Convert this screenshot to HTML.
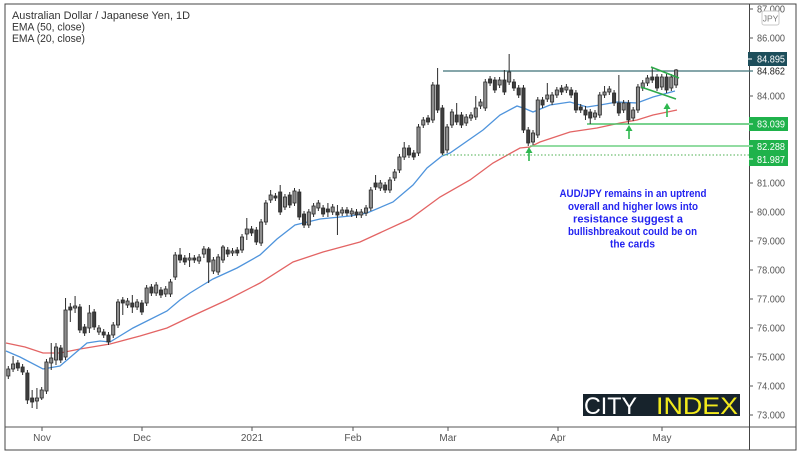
<!DOCTYPE html>
<html>
<head>
<meta charset="utf-8">
<style>
  html,body{margin:0;padding:0;background:#fff;}
  body{width:800px;height:456px;overflow:hidden;}
  svg{display:block;}
  .ax{font-family:"Liberation Sans",sans-serif;font-size:10px;fill:#555;}
  .lg{font-family:"Liberation Sans",sans-serif;font-size:11px;fill:#333;}
  .an{font-family:"Liberation Sans",sans-serif;font-size:11px;font-weight:bold;fill:#2323f0;}
</style>
</head>
<body>
<svg id="c" width="800" height="456" viewBox="0 0 800 456" xmlns="http://www.w3.org/2000/svg">
  <rect x="0" y="0" width="800" height="456" fill="#fff"/>
  <!-- frame -->
  <rect x="5" y="4" width="791" height="446" fill="none" stroke="#444" stroke-width="1"/>
  <line x1="5" y1="427" x2="796" y2="427" stroke="#555" stroke-width="1"/>
  <line x1="749.5" y1="4" x2="749.5" y2="450" stroke="#444" stroke-width="1"/>

  <!-- EMA50 red -->
  <polyline fill="none" stroke="#e36464" stroke-width="1.3" points="6,343 25,347 43,353 60,353 80,349 110,344 140,336 167,328 190,317 227,300 260,283 293,262 323,252 360,242 410,219 440,197 470,180 493,163 520,148 530,147 540,142 570,132 597,128 620,123 637,120 653,115 677,110"/>
  <!-- EMA20 blue -->
  <polyline fill="none" stroke="#4f94dc" stroke-width="1.3" points="6,351 20,357 43,369 60,366 87,343 100,341 110,342 133,328 167,311 180,300 190,293 203,285 213,279 237,268 260,255 277,239 295,225 320,219 350,216 367,213 393,202 413,185 427,168 442,156 450,153 483,130 500,115 517,106 526,109 533,112 550,105 570,102 587,107 600,105 617,102 637,103 653,97 675,91"/>

  <!-- horizontal levels -->
  <line x1="443" y1="71" x2="753" y2="71" stroke="#3f7077" stroke-width="1.3"/>
  <line x1="587" y1="124" x2="753" y2="124" stroke="#4dc46a" stroke-width="1.6"/>
  <line x1="530" y1="146" x2="753" y2="146" stroke="#6fd083" stroke-width="1.6"/>
  <line x1="443" y1="155" x2="753" y2="155" stroke="#4caf50" stroke-width="1" stroke-dasharray="1.5,2"/>

  <g id="candles"></g>

  <!-- pennant -->
  <line x1="651" y1="67" x2="679" y2="78" stroke="#2eaa4a" stroke-width="1.6"/>
  <line x1="641" y1="87" x2="676" y2="99" stroke="#2eaa4a" stroke-width="1.6"/>

  <!-- arrows -->
  <g fill="#2eb84f" stroke="#2eb84f">
    <line x1="529" y1="152" x2="529" y2="161" stroke-width="1.6"/>
    <polygon points="529,147 525.5,153 532.5,153" stroke="none"/>
    <line x1="629" y1="130" x2="629" y2="139" stroke-width="1.6"/>
    <polygon points="629,125 625.5,131 632.5,131" stroke="none"/>
    <line x1="667" y1="108" x2="667" y2="117" stroke-width="1.6"/>
    <polygon points="667,103 663.5,109 670.5,109" stroke="none"/>
  </g>

  <!-- legend -->
  <text class="lg" x="12" y="19" textLength="178" lengthAdjust="spacingAndGlyphs">Australian Dollar / Japanese Yen, 1D</text>
  <text class="lg" x="12" y="30.5" textLength="73" lengthAdjust="spacingAndGlyphs">EMA (50, close)</text>
  <text class="lg" x="12" y="42" textLength="73" lengthAdjust="spacingAndGlyphs">EMA (20, close)</text>

  <!-- annotation -->
  <text class="an" x="633" y="197" text-anchor="middle" textLength="147" lengthAdjust="spacingAndGlyphs">AUD/JPY remains in an uptrend</text>
  <text class="an" x="633" y="210" text-anchor="middle" textLength="130" lengthAdjust="spacingAndGlyphs">overall and higher lows into</text>
  <text class="an" x="628" y="222.5" text-anchor="middle" textLength="110" lengthAdjust="spacingAndGlyphs">resistance suggest a</text>
  <text class="an" x="632.5" y="235" text-anchor="middle" textLength="129" lengthAdjust="spacingAndGlyphs">bullishbreakout could be on</text>
  <text class="an" x="632.5" y="247.5" text-anchor="middle" textLength="45" lengthAdjust="spacingAndGlyphs">the cards</text>

  <!-- price axis ticks & labels -->
  <g stroke="#555" stroke-width="1">
    <line x1="749" y1="9" x2="753" y2="9"/>
    <line x1="749" y1="38" x2="753" y2="38"/>
    <line x1="749" y1="96" x2="753" y2="96"/>
    <line x1="749" y1="183" x2="753" y2="183"/>
    <line x1="749" y1="212" x2="753" y2="212"/>
    <line x1="749" y1="241" x2="753" y2="241"/>
    <line x1="749" y1="270" x2="753" y2="270"/>
    <line x1="749" y1="299" x2="753" y2="299"/>
    <line x1="749" y1="328" x2="753" y2="328"/>
    <line x1="749" y1="357" x2="753" y2="357"/>
    <line x1="749" y1="386" x2="753" y2="386"/>
    <line x1="749" y1="415" x2="753" y2="415"/>
  </g>
  <g class="ax">
    <text x="757" y="12.5" textLength="28" lengthAdjust="spacingAndGlyphs">87.000</text>
    <text x="757" y="41.5" textLength="28" lengthAdjust="spacingAndGlyphs">86.000</text>
    <text x="757" y="99.5" textLength="28" lengthAdjust="spacingAndGlyphs">84.000</text>
    <text x="757" y="186.5" textLength="28" lengthAdjust="spacingAndGlyphs">81.000</text>
    <text x="757" y="215.5" textLength="28" lengthAdjust="spacingAndGlyphs">80.000</text>
    <text x="757" y="244.5" textLength="28" lengthAdjust="spacingAndGlyphs">79.000</text>
    <text x="757" y="273.5" textLength="28" lengthAdjust="spacingAndGlyphs">78.000</text>
    <text x="757" y="302.5" textLength="28" lengthAdjust="spacingAndGlyphs">77.000</text>
    <text x="757" y="331.5" textLength="28" lengthAdjust="spacingAndGlyphs">76.000</text>
    <text x="757" y="360.5" textLength="28" lengthAdjust="spacingAndGlyphs">75.000</text>
    <text x="757" y="389.5" textLength="28" lengthAdjust="spacingAndGlyphs">74.000</text>
    <text x="757" y="418.5" textLength="28" lengthAdjust="spacingAndGlyphs">73.000</text>
  </g>
  <!-- JPY box -->
  <rect x="762" y="11" width="17" height="14" rx="2" fill="#fff" stroke="#c8c8c8" stroke-width="1"/>
  <text x="770.5" y="21.5" text-anchor="middle" font-family="Liberation Sans, sans-serif" font-size="8.5" fill="#777">JPY</text>

  <!-- price label boxes -->
  <rect x="748" y="52" width="39" height="14" fill="#1d4e5b"/>
  <text x="757" y="62.5" font-family="Liberation Sans, sans-serif" font-size="10" fill="#fff" textLength="28" lengthAdjust="spacingAndGlyphs">84.895</text>
  <text x="757" y="74.5" font-family="Liberation Sans, sans-serif" font-size="10" fill="#222" textLength="28" lengthAdjust="spacingAndGlyphs">84.862</text>
  <rect x="749" y="117" width="39" height="14" fill="#1fb24b"/>
  <text x="757" y="127.5" font-family="Liberation Sans, sans-serif" font-size="10" fill="#fff" textLength="28" lengthAdjust="spacingAndGlyphs">83.039</text>
  <rect x="749" y="140" width="39" height="26" fill="#1fb24b"/>
  <text x="757" y="150" font-family="Liberation Sans, sans-serif" font-size="10" fill="#fff" textLength="28" lengthAdjust="spacingAndGlyphs">82.288</text>
  <text x="757" y="163" font-family="Liberation Sans, sans-serif" font-size="10" fill="#fff" textLength="28" lengthAdjust="spacingAndGlyphs">81.987</text>
  <g stroke="#fff" stroke-width="1">
    <line x1="749" y1="124" x2="753" y2="124"/>
    <line x1="749" y1="146" x2="753" y2="146"/>
    <line x1="749" y1="159" x2="753" y2="159"/>
    <line x1="748" y1="59" x2="752" y2="59"/>
  </g>

  <!-- time axis -->
  <g stroke="#555" stroke-width="1">
    <line x1="42" y1="427" x2="42" y2="431"/>
    <line x1="142" y1="427" x2="142" y2="431"/>
    <line x1="252" y1="427" x2="252" y2="431"/>
    <line x1="353" y1="427" x2="353" y2="431"/>
    <line x1="448" y1="427" x2="448" y2="431"/>
    <line x1="558" y1="427" x2="558" y2="431"/>
    <line x1="662" y1="427" x2="662" y2="431"/>
  </g>
  <g class="ax" text-anchor="middle">
    <text x="42" y="441">Nov</text>
    <text x="142" y="441">Dec</text>
    <text x="252" y="441">2021</text>
    <text x="353" y="441">Feb</text>
    <text x="448" y="441">Mar</text>
    <text x="558" y="441">Apr</text>
    <text x="662" y="441">May</text>
  </g>

  <!-- logo -->
  <rect x="583" y="394" width="157" height="22" fill="#17232c"/>
  <text x="584" y="414" font-family="Liberation Sans, sans-serif" font-size="24.5" fill="#ffffff" textLength="53" lengthAdjust="spacingAndGlyphs">CITY</text>
  <text x="656" y="414" font-family="Liberation Sans, sans-serif" font-size="24.5" fill="#f2ea1c" textLength="82" lengthAdjust="spacingAndGlyphs">INDEX</text>
</svg>
<script>
(function(){
  // [top, bottom, up, high, low] in pixel coords
  var D=[
  [369,376,1],[364,369,1,356],[363,368,0],[367,372,0],[373,400,0,370,404],
  [398,402,0,390,408],[398,401,1,388,409],[390,398,1,387,400],[362,391,1],[358,363,1,343,370],
  [347,360,1,343,365],[348,360,0],[310,357,1,298],[307,310,0,303,322],[306,308,1,296,313],
  [307,330,0,304,333],[327,333,0],[313,328,1,305,333],[312,327,0],[328,332,1,325,335],
  [332,335,0],[335,342,0,332,345],[325,335,1],[302,325,1],[300,303,0,297,315],
  [301,305,1],[303,307,0,295,313],[302,307,1],[303,312,0],[288,303,1,285],
  [287,293,0],[285,293,1],[290,295,0],[289,294,1],[282,294,1],
  [255,277,1,252],[255,260,0,248,263],[258,262,0],[258,260,1,253,267],[258,260,0],
  [257,261,1],[249,254,1,246,258],[249,262,0,247,283],[260,271,1],[257,272,1],
  [247,260,1,245],[250,254,0],[251,253,1],[250,253,0],[237,250,1],
  [229,234,1,218,240],[229,233,0],[230,242,0],[222,243,1],[203,222,1],
  [195,200,1,190],[196,198,0],[192,212,0,185],[197,207,1],[195,205,0],
  [191,203,1,188],[192,217,0],[214,225,0],[212,225,1],[206,214,1],
  [203,208,1],[208,214,0],[209,212,0,203,217],[207,212,1],[212,215,0,205,235],
  [210,213,1],[210,213,0],[211,214,1],[212,215,0],[212,215,1],
  [208,213,1],[190,208,1],[183,187,0,175],[183,188,1],[185,190,0],
  [180,190,1],[172,178,1],[157,170,1],[148,157,1,142],[148,155,0],
  [153,157,0],[127,153,1],[120,125,1],[118,122,0],[85,120,1],
  [85,110,0,68],[108,153,0,105,155],[127,150,1],[112,125,1],[115,122,0,103],
  [115,125,0],[117,123,1],[115,118,1],[108,117,1,96],[102,106,1],
  [82,108,1],[79,83,0],[80,90,0],[80,85,1],[80,92,0,70],
  [72,82,1,54],[82,88,0],[88,95,0],[88,130,0],[130,143,0,127,146],
  [133,142,1],[100,135,1],[100,105,0],[95,99,1,83],[95,102,1],
  [90,95,1],[88,92,0],[87,90,1],[90,95,0],[93,110,0],
  [107,110,0],[110,115,0,106,120],[112,118,0,109,124],[113,117,1],[95,115,1],
  [92,95,1,86],[89,92,1],[93,103,0],[103,113,0,75],[103,110,1],
  [103,120,0,100,124],[110,118,1],[87,110,1],[83,88,1],[78,83,1],
  [77,80,0,68],[77,88,0],[77,87,1],[77,90,0],[77,88,1],
  [70,85,1,69]
  ];
  var ns="http://www.w3.org/2000/svg";
  var g=document.getElementById("candles");
  for(var i=0;i<D.length;i++){
    var d=D[i], x=8.3+4.77*i;
    var hi=(d[3]!==undefined)?d[3]:d[0]-3;
    var lo=(d[4]!==undefined)?d[4]:d[1]+3;
    var l=document.createElementNS(ns,"line");
    l.setAttribute("x1",x.toFixed(2));l.setAttribute("x2",x.toFixed(2));
    l.setAttribute("y1",hi);l.setAttribute("y2",lo);
    l.setAttribute("stroke","#2b2b2b");l.setAttribute("stroke-width","1");
    g.appendChild(l);
    var r=document.createElementNS(ns,"rect");
    var h=Math.max(1.5,d[1]-d[0]);
    r.setAttribute("x",(x-1.6).toFixed(2));r.setAttribute("y",d[0]);
    r.setAttribute("width","3.2");r.setAttribute("height",h);
    r.setAttribute("fill",d[2]?"#8d8d8d":"#3e3e3e");
    r.setAttribute("stroke","#2b2b2b");r.setAttribute("stroke-width","0.8");
    g.appendChild(r);
  }
})();
</script>
</body>
</html>
